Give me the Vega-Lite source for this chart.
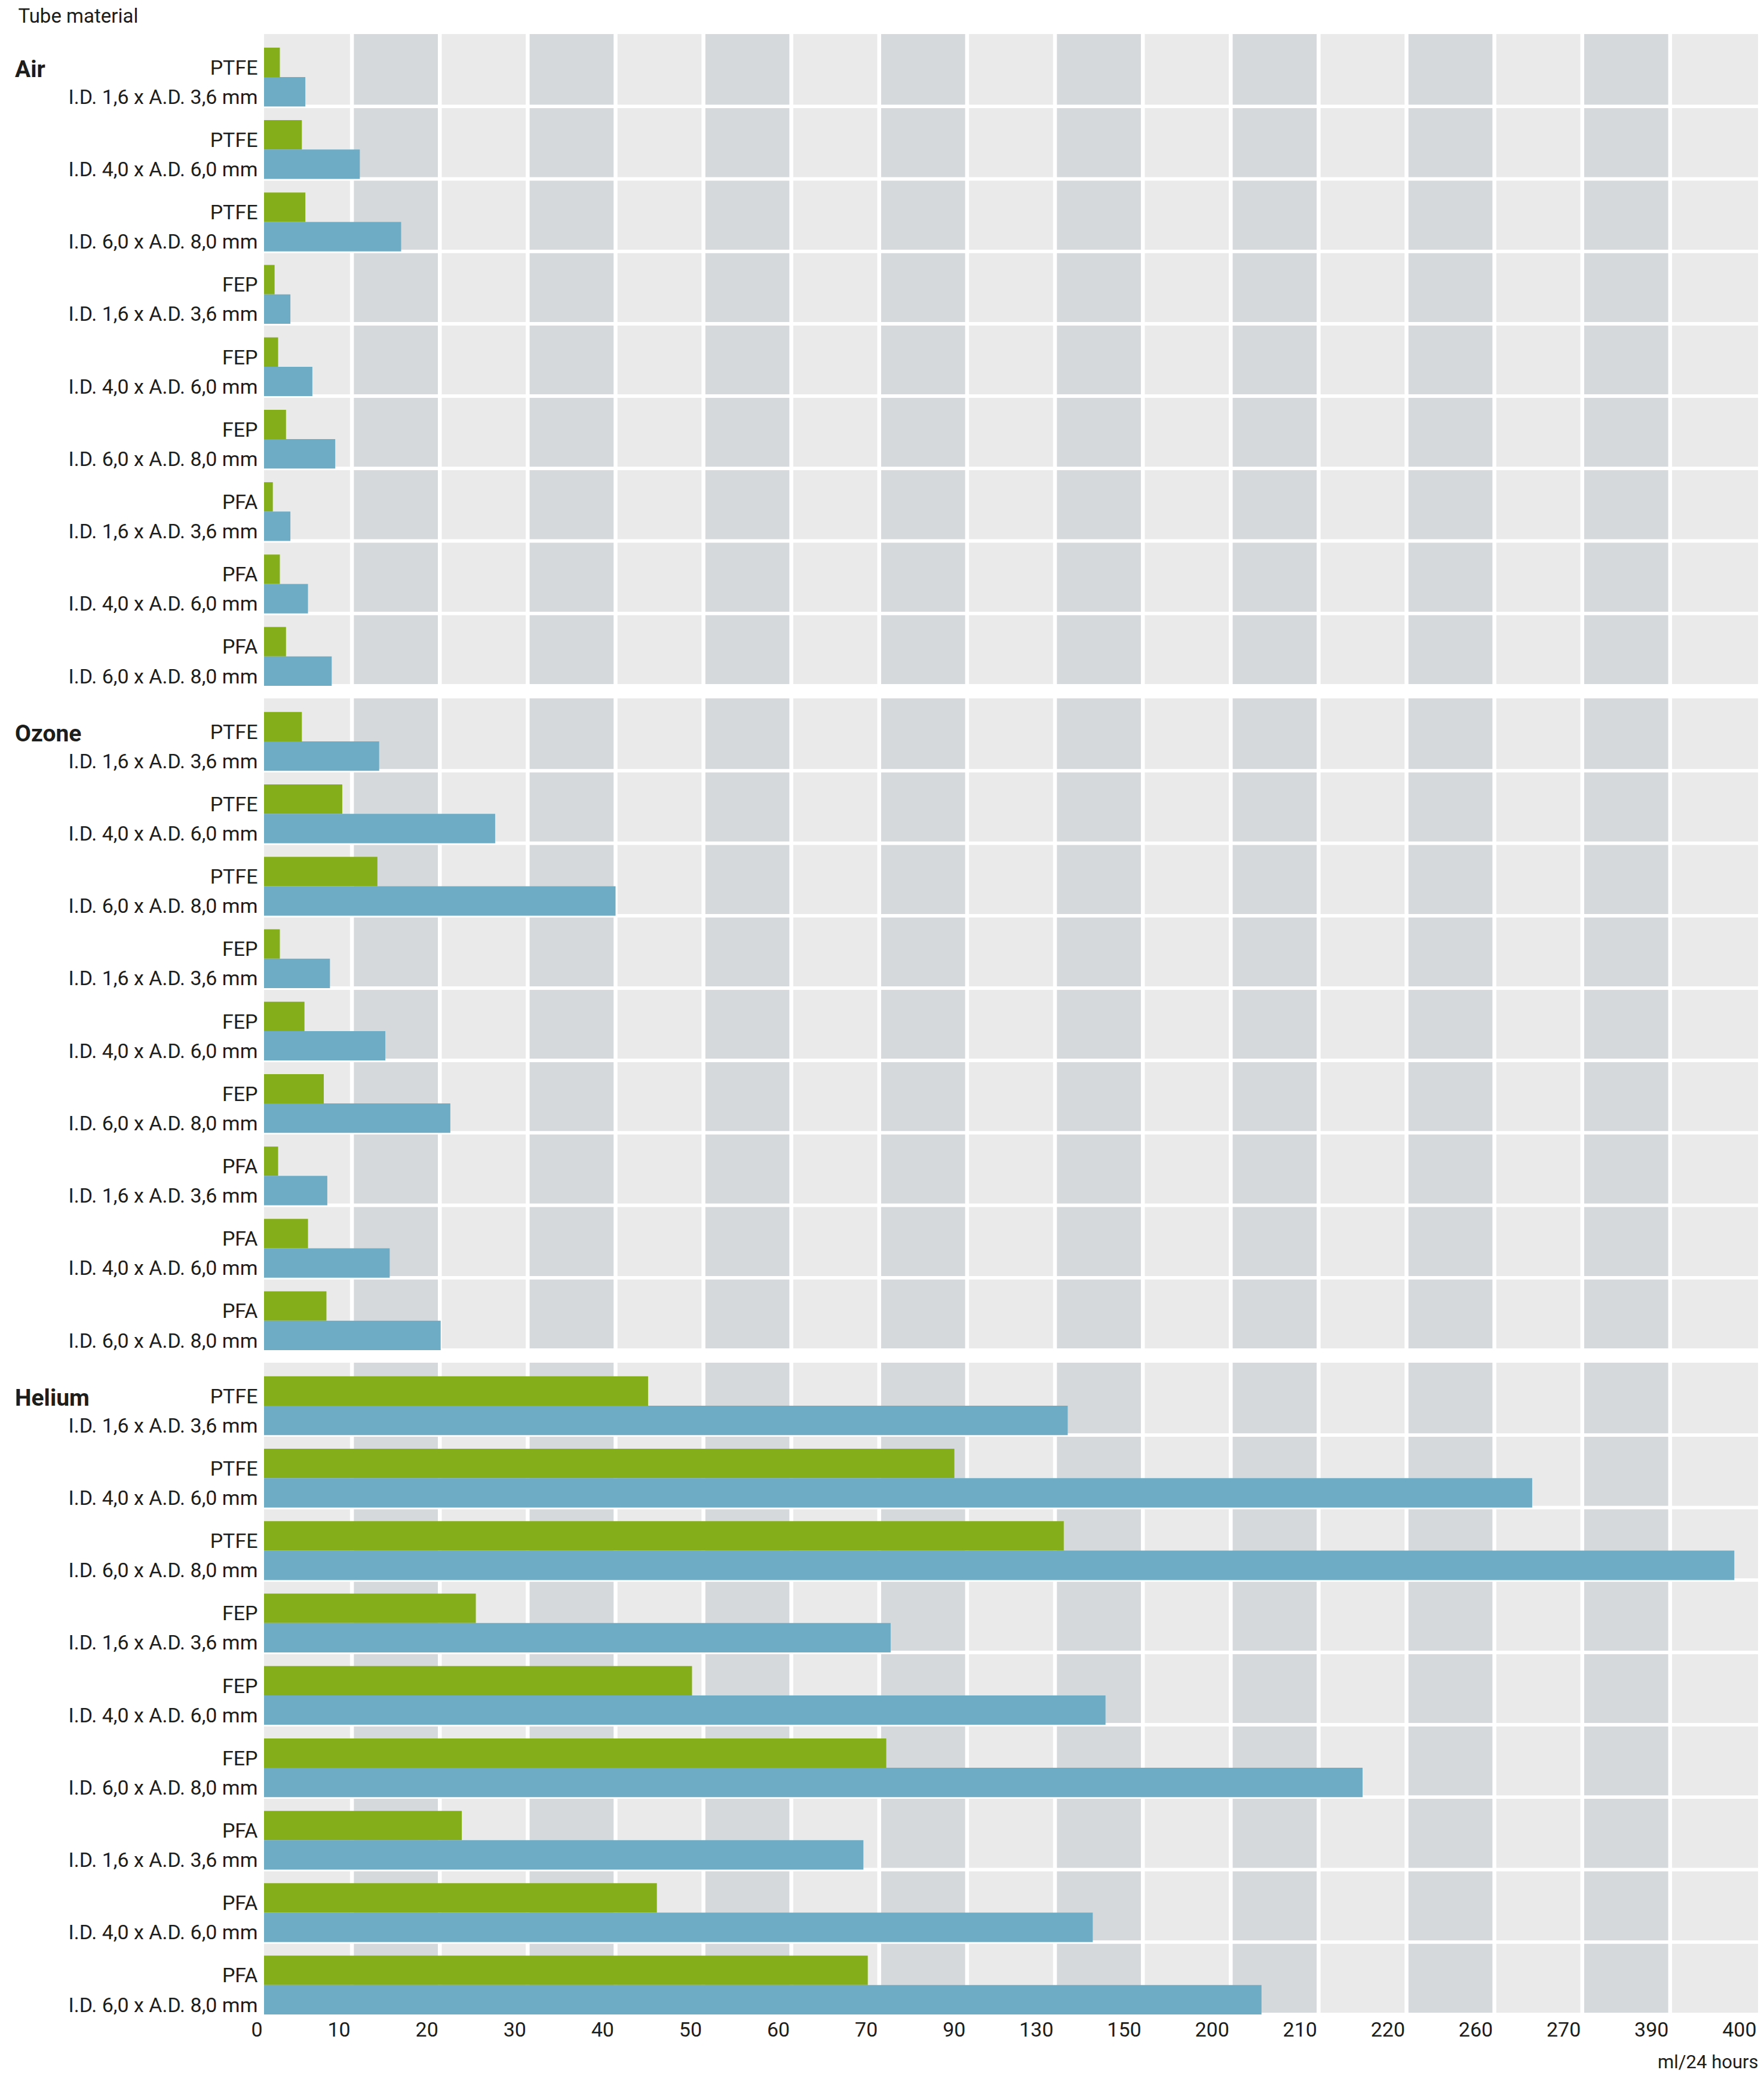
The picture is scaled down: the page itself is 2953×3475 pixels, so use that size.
{
  "$schema": "https://vega.github.io/schema/vega-lite/v6.json",
  "background": "white",
  "padding": {"left": 24, "top": 11, "right": 6, "bottom": 6},
  "title": {
    "text": "Tube material",
    "anchor": "start",
    "frame": "bounds",
    "fontSize": 33,
    "fontWeight": "normal",
    "color": "#1d1d1b",
    "dx": 6,
    "offset": 9
  },
  "datasets": {
    "bands": [
      {"lo": 0, "hi": 10, "shade": "light"},
      {"lo": 10, "hi": 20, "shade": "dark"},
      {"lo": 20, "hi": 30, "shade": "light"},
      {"lo": 30, "hi": 40, "shade": "dark"},
      {"lo": 40, "hi": 50, "shade": "light"},
      {"lo": 50, "hi": 60, "shade": "dark"},
      {"lo": 60, "hi": 70, "shade": "light"},
      {"lo": 70, "hi": 90, "shade": "dark"},
      {"lo": 90, "hi": 130, "shade": "light"},
      {"lo": 130, "hi": 150, "shade": "dark"},
      {"lo": 150, "hi": 200, "shade": "light"},
      {"lo": 200, "hi": 210, "shade": "dark"},
      {"lo": 210, "hi": 220, "shade": "light"},
      {"lo": 220, "hi": 260, "shade": "dark"},
      {"lo": 260, "hi": 270, "shade": "light"},
      {"lo": 270, "hi": 390, "shade": "dark"},
      {"lo": 390, "hi": 400, "shade": "light"}
    ],
    "flow": [
      {"gas": "Air", "group": "PTFE|I.D. 1,6 x A.D. 3,6 mm", "series": "A", "value": 1.8},
      {"gas": "Air", "group": "PTFE|I.D. 1,6 x A.D. 3,6 mm", "series": "B", "value": 4.7},
      {"gas": "Air", "group": "PTFE|I.D. 4,0 x A.D. 6,0 mm", "series": "A", "value": 4.3},
      {"gas": "Air", "group": "PTFE|I.D. 4,0 x A.D. 6,0 mm", "series": "B", "value": 10.9},
      {"gas": "Air", "group": "PTFE|I.D. 6,0 x A.D. 8,0 mm", "series": "A", "value": 4.7},
      {"gas": "Air", "group": "PTFE|I.D. 6,0 x A.D. 8,0 mm", "series": "B", "value": 15.6},
      {"gas": "Air", "group": "FEP|I.D. 1,6 x A.D. 3,6 mm", "series": "A", "value": 1.2},
      {"gas": "Air", "group": "FEP|I.D. 1,6 x A.D. 3,6 mm", "series": "B", "value": 3.0},
      {"gas": "Air", "group": "FEP|I.D. 4,0 x A.D. 6,0 mm", "series": "A", "value": 1.6},
      {"gas": "Air", "group": "FEP|I.D. 4,0 x A.D. 6,0 mm", "series": "B", "value": 5.5},
      {"gas": "Air", "group": "FEP|I.D. 6,0 x A.D. 8,0 mm", "series": "A", "value": 2.5},
      {"gas": "Air", "group": "FEP|I.D. 6,0 x A.D. 8,0 mm", "series": "B", "value": 8.1},
      {"gas": "Air", "group": "PFA|I.D. 1,6 x A.D. 3,6 mm", "series": "A", "value": 1.0},
      {"gas": "Air", "group": "PFA|I.D. 1,6 x A.D. 3,6 mm", "series": "B", "value": 3.0},
      {"gas": "Air", "group": "PFA|I.D. 4,0 x A.D. 6,0 mm", "series": "A", "value": 1.8},
      {"gas": "Air", "group": "PFA|I.D. 4,0 x A.D. 6,0 mm", "series": "B", "value": 5.0},
      {"gas": "Air", "group": "PFA|I.D. 6,0 x A.D. 8,0 mm", "series": "A", "value": 2.5},
      {"gas": "Air", "group": "PFA|I.D. 6,0 x A.D. 8,0 mm", "series": "B", "value": 7.7},
      {"gas": "Ozone", "group": "PTFE|I.D. 1,6 x A.D. 3,6 mm", "series": "A", "value": 4.3},
      {"gas": "Ozone", "group": "PTFE|I.D. 1,6 x A.D. 3,6 mm", "series": "B", "value": 13.1},
      {"gas": "Ozone", "group": "PTFE|I.D. 4,0 x A.D. 6,0 mm", "series": "A", "value": 8.9},
      {"gas": "Ozone", "group": "PTFE|I.D. 4,0 x A.D. 6,0 mm", "series": "B", "value": 26.3},
      {"gas": "Ozone", "group": "PTFE|I.D. 6,0 x A.D. 8,0 mm", "series": "A", "value": 12.9},
      {"gas": "Ozone", "group": "PTFE|I.D. 6,0 x A.D. 8,0 mm", "series": "B", "value": 40.0},
      {"gas": "Ozone", "group": "FEP|I.D. 1,6 x A.D. 3,6 mm", "series": "A", "value": 1.8},
      {"gas": "Ozone", "group": "FEP|I.D. 1,6 x A.D. 3,6 mm", "series": "B", "value": 7.5},
      {"gas": "Ozone", "group": "FEP|I.D. 4,0 x A.D. 6,0 mm", "series": "A", "value": 4.6},
      {"gas": "Ozone", "group": "FEP|I.D. 4,0 x A.D. 6,0 mm", "series": "B", "value": 13.8},
      {"gas": "Ozone", "group": "FEP|I.D. 6,0 x A.D. 8,0 mm", "series": "A", "value": 6.8},
      {"gas": "Ozone", "group": "FEP|I.D. 6,0 x A.D. 8,0 mm", "series": "B", "value": 21.2},
      {"gas": "Ozone", "group": "PFA|I.D. 1,6 x A.D. 3,6 mm", "series": "A", "value": 1.6},
      {"gas": "Ozone", "group": "PFA|I.D. 1,6 x A.D. 3,6 mm", "series": "B", "value": 7.2},
      {"gas": "Ozone", "group": "PFA|I.D. 4,0 x A.D. 6,0 mm", "series": "A", "value": 5.0},
      {"gas": "Ozone", "group": "PFA|I.D. 4,0 x A.D. 6,0 mm", "series": "B", "value": 14.3},
      {"gas": "Ozone", "group": "PFA|I.D. 6,0 x A.D. 8,0 mm", "series": "A", "value": 7.1},
      {"gas": "Ozone", "group": "PFA|I.D. 6,0 x A.D. 8,0 mm", "series": "B", "value": 20.1},
      {"gas": "Helium", "group": "PTFE|I.D. 1,6 x A.D. 3,6 mm", "series": "A", "value": 43.7},
      {"gas": "Helium", "group": "PTFE|I.D. 1,6 x A.D. 3,6 mm", "series": "B", "value": 132.9},
      {"gas": "Helium", "group": "PTFE|I.D. 4,0 x A.D. 6,0 mm", "series": "A", "value": 87.1},
      {"gas": "Helium", "group": "PTFE|I.D. 4,0 x A.D. 6,0 mm", "series": "B", "value": 264.3},
      {"gas": "Helium", "group": "PTFE|I.D. 6,0 x A.D. 8,0 mm", "series": "A", "value": 132.0},
      {"gas": "Helium", "group": "PTFE|I.D. 6,0 x A.D. 8,0 mm", "series": "B", "value": 397.3},
      {"gas": "Helium", "group": "FEP|I.D. 1,6 x A.D. 3,6 mm", "series": "A", "value": 24.1},
      {"gas": "Helium", "group": "FEP|I.D. 1,6 x A.D. 3,6 mm", "series": "B", "value": 72.6},
      {"gas": "Helium", "group": "FEP|I.D. 4,0 x A.D. 6,0 mm", "series": "A", "value": 48.7},
      {"gas": "Helium", "group": "FEP|I.D. 4,0 x A.D. 6,0 mm", "series": "B", "value": 141.5},
      {"gas": "Helium", "group": "FEP|I.D. 6,0 x A.D. 8,0 mm", "series": "A", "value": 71.6},
      {"gas": "Helium", "group": "FEP|I.D. 6,0 x A.D. 8,0 mm", "series": "B", "value": 215.0},
      {"gas": "Helium", "group": "PFA|I.D. 1,6 x A.D. 3,6 mm", "series": "A", "value": 22.5},
      {"gas": "Helium", "group": "PFA|I.D. 1,6 x A.D. 3,6 mm", "series": "B", "value": 68.2},
      {"gas": "Helium", "group": "PFA|I.D. 4,0 x A.D. 6,0 mm", "series": "A", "value": 44.7},
      {"gas": "Helium", "group": "PFA|I.D. 4,0 x A.D. 6,0 mm", "series": "B", "value": 138.6},
      {"gas": "Helium", "group": "PFA|I.D. 6,0 x A.D. 8,0 mm", "series": "A", "value": 68.7},
      {"gas": "Helium", "group": "PFA|I.D. 6,0 x A.D. 8,0 mm", "series": "B", "value": 203.5}
    ]
  },
  "vconcat": [
    {
      "width": 2501,
      "height": 1091,
      "layer": [
        {
          "data": {"name": "bands"},
          "mark": {"type": "rect"},
          "encoding": {
            "x": {"field": "lo", "type": "quantitative", "axis": null,
              "scale": {"type": "linear", "nice": false, "zero": false,
                "domain": [0, 10, 20, 30, 40, 50, 60, 70, 90, 130, 150, 200, 210, 220, 260, 270, 390, 400],
                "range": [0, 147.12, 294.24, 441.35, 588.47, 735.59, 882.71, 1029.82, 1176.94, 1324.06, 1471.18, 1618.29, 1765.41, 1912.53, 2059.65, 2206.76, 2353.88, 2501]}},
            "x2": {"field": "hi"},
            "fill": {"field": "shade", "type": "nominal", "legend": null,
              "scale": {"domain": ["light", "dark"], "range": ["#eaeaea", "#d6d9dc"]}}
          }
        },
        {
          "data": {"name": "bands"},
          "transform": [{"filter": "datum.lo > 0"}],
          "mark": {"type": "rule", "color": "white", "strokeWidth": 6.5},
          "encoding": {"x": {"field": "lo", "type": "quantitative"}}
        },
        {
          "data": {"name": "flow"},
          "transform": [{"filter": "datum.gas === 'Air'"}],
          "mark": {"type": "rule", "color": "white", "strokeWidth": 5.5},
          "encoding": {
            "y": {"field": "group", "type": "nominal", "sort": null, "bandPosition": 1,
              "scale": {"paddingInner": 0, "paddingOuter": 0},
              "axis": {"title": "Air", "titleAngle": 0, "titleAlign": "left", "titleBaseline": "alphabetic",
                "titleX": -417.5, "titleY": 71.5, "titleFontSize": 39, "titleFontWeight": "bold", "titleColor": "#1d1d1b",
                "labelExpr": "split(datum.label, '|')", "labelFontSize": 34, "labelLineHeight": 49.2,
                "labelBaseline": "middle", "labelOffset": -3, "labelPadding": 11, "labelAlign": "right",
                "labelColor": "#1d1d1b", "labelLimit": 600, "labelOverlap": false, "labelBound": false,
                "ticks": false, "domain": false, "grid": false}}
          }
        },
        {
          "data": {"name": "flow"},
          "transform": [{"filter": "datum.gas === 'Air'"}],
          "mark": {"type": "bar"},
          "encoding": {
            "y": {"field": "group", "type": "nominal", "sort": null},
            "yOffset": {"field": "series", "type": "nominal",
              "scale": {"domain": ["A", "B"], "paddingInner": 0, "paddingOuter": 0.2317, "align": 1}},
            "x": {"field": "value", "type": "quantitative"},
            "color": {"field": "series", "type": "nominal", "legend": null,
              "scale": {"domain": ["A", "B"], "range": ["#84ae1a", "#6eacc6"]}}
          }
        }
      ]
    },
    {
      "width": 2501,
      "height": 1091,
      "layer": [
        {
          "data": {"name": "bands"},
          "mark": {"type": "rect"},
          "encoding": {
            "x": {"field": "lo", "type": "quantitative", "axis": null,
              "scale": {"type": "linear", "nice": false, "zero": false,
                "domain": [0, 10, 20, 30, 40, 50, 60, 70, 90, 130, 150, 200, 210, 220, 260, 270, 390, 400],
                "range": [0, 147.12, 294.24, 441.35, 588.47, 735.59, 882.71, 1029.82, 1176.94, 1324.06, 1471.18, 1618.29, 1765.41, 1912.53, 2059.65, 2206.76, 2353.88, 2501]}},
            "x2": {"field": "hi"},
            "fill": {"field": "shade", "type": "nominal", "legend": null,
              "scale": {"domain": ["light", "dark"], "range": ["#eaeaea", "#d6d9dc"]}}
          }
        },
        {
          "data": {"name": "bands"},
          "transform": [{"filter": "datum.lo > 0"}],
          "mark": {"type": "rule", "color": "white", "strokeWidth": 6.5},
          "encoding": {"x": {"field": "lo", "type": "quantitative"}}
        },
        {
          "data": {"name": "flow"},
          "transform": [{"filter": "datum.gas === 'Ozone'"}],
          "mark": {"type": "rule", "color": "white", "strokeWidth": 5.5},
          "encoding": {
            "y": {"field": "group", "type": "nominal", "sort": null, "bandPosition": 1,
              "scale": {"paddingInner": 0, "paddingOuter": 0},
              "axis": {"title": "Ozone", "titleAngle": 0, "titleAlign": "left", "titleBaseline": "alphabetic",
                "titleX": -417.5, "titleY": 71.5, "titleFontSize": 39, "titleFontWeight": "bold", "titleColor": "#1d1d1b",
                "labelExpr": "split(datum.label, '|')", "labelFontSize": 34, "labelLineHeight": 49.2,
                "labelBaseline": "middle", "labelOffset": -3, "labelPadding": 11, "labelAlign": "right",
                "labelColor": "#1d1d1b", "labelLimit": 600, "labelOverlap": false, "labelBound": false,
                "ticks": false, "domain": false, "grid": false}}
          }
        },
        {
          "data": {"name": "flow"},
          "transform": [{"filter": "datum.gas === 'Ozone'"}],
          "mark": {"type": "bar"},
          "encoding": {
            "y": {"field": "group", "type": "nominal", "sort": null},
            "yOffset": {"field": "series", "type": "nominal",
              "scale": {"domain": ["A", "B"], "paddingInner": 0, "paddingOuter": 0.2317, "align": 1}},
            "x": {"field": "value", "type": "quantitative"},
            "color": {"field": "series", "type": "nominal", "legend": null,
              "scale": {"domain": ["A", "B"], "range": ["#84ae1a", "#6eacc6"]}}
          }
        }
      ]
    },
    {
      "width": 2501,
      "height": 1091,
      "layer": [
        {
          "data": {"name": "bands"},
          "mark": {"type": "rect"},
          "encoding": {
            "x": {"field": "lo", "type": "quantitative",
              "scale": {"type": "linear", "nice": false, "zero": false,
                "domain": [0, 10, 20, 30, 40, 50, 60, 70, 90, 130, 150, 200, 210, 220, 260, 270, 390, 400],
                "range": [0, 147.12, 294.24, 441.35, 588.47, 735.59, 882.71, 1029.82, 1176.94, 1324.06, 1471.18, 1618.29, 1765.41, 1912.53, 2059.65, 2206.76, 2353.88, 2501]},
              "axis": {"values": [0, 10, 20, 30, 40, 50, 60, 70, 90, 130, 150, 200, 210, 220, 260, 270, 390, 400],
                "title": "ml/24 hours", "titleAnchor": "end", "titleFontSize": 31, "titleFontWeight": "normal",
                "titleColor": "#1d1d1b", "titlePadding": 22,
                "labelAlign": "right", "labelBaseline": "top", "labelPadding": 9, "labelOffset": -3,
                "labelFontSize": 34, "labelColor": "#1d1d1b", "labelOverlap": false, "labelBound": false, "labelFlush": false,
                "ticks": false, "domain": false, "grid": false}},
            "x2": {"field": "hi"},
            "fill": {"field": "shade", "type": "nominal", "legend": null,
              "scale": {"domain": ["light", "dark"], "range": ["#eaeaea", "#d6d9dc"]}}
          }
        },
        {
          "data": {"name": "bands"},
          "transform": [{"filter": "datum.lo > 0"}],
          "mark": {"type": "rule", "color": "white", "strokeWidth": 6.5},
          "encoding": {"x": {"field": "lo", "type": "quantitative"}}
        },
        {
          "data": {"name": "flow"},
          "transform": [{"filter": "datum.gas === 'Helium'"}],
          "mark": {"type": "rule", "color": "white", "strokeWidth": 5.5},
          "encoding": {
            "y": {"field": "group", "type": "nominal", "sort": null, "bandPosition": 1,
              "scale": {"paddingInner": 0, "paddingOuter": 0},
              "axis": {"title": "Helium", "titleAngle": 0, "titleAlign": "left", "titleBaseline": "alphabetic",
                "titleX": -417.5, "titleY": 71.5, "titleFontSize": 39, "titleFontWeight": "bold", "titleColor": "#1d1d1b",
                "labelExpr": "split(datum.label, '|')", "labelFontSize": 34, "labelLineHeight": 49.2,
                "labelBaseline": "middle", "labelOffset": -3, "labelPadding": 11, "labelAlign": "right",
                "labelColor": "#1d1d1b", "labelLimit": 600, "labelOverlap": false, "labelBound": false,
                "ticks": false, "domain": false, "grid": false}}
          }
        },
        {
          "data": {"name": "flow"},
          "transform": [{"filter": "datum.gas === 'Helium'"}],
          "mark": {"type": "bar"},
          "encoding": {
            "y": {"field": "group", "type": "nominal", "sort": null},
            "yOffset": {"field": "series", "type": "nominal",
              "scale": {"domain": ["A", "B"], "paddingInner": 0, "paddingOuter": 0.2317, "align": 1}},
            "x": {"field": "value", "type": "quantitative"},
            "color": {"field": "series", "type": "nominal", "legend": null,
              "scale": {"domain": ["A", "B"], "range": ["#84ae1a", "#6eacc6"]}}
          }
        }
      ]
    }
  ],
  "spacing": 21,
  "bounds": "flush",
  "config": {
    "font": "Roboto",
    "view": {"stroke": null}
  }
}
